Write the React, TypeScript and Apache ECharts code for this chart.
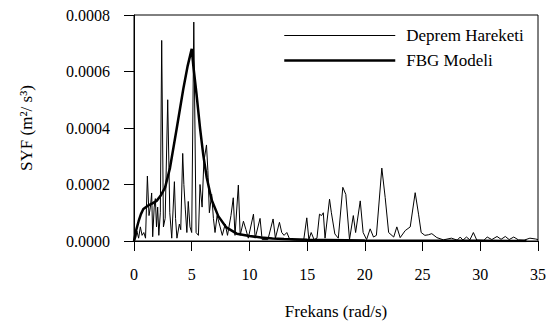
import React, { useEffect, useRef } from "react";
import * as echarts from "echarts";

const seriesNames = ["Deprem Hareketi", "FBG Modeli"];
const xTicks = [0, 5, 10, 15, 20, 25, 30, 35];
const yTicks = [0, 0.0002, 0.0004, 0.0006, 0.0008];

// Deprem Hareketi (earthquake motion spectrum): [frequency rad/s, SYF]
const quakeData: [number, number][] = [
  [0, 0], [0.15, 0.00001], [0.25, 0.000035], [0.4, 0.00001], [0.55, 0.00005],
  [0.7, 0.00002], [0.85, 0.00003], [1.0, 0.00001], [1.16, 0.00023], [1.3, 0.00009],
  [1.42, 0.00012], [1.53, 0.00017], [1.62, 0.000015], [1.75, 0.00012], [1.85, 0.00015],
  [1.95, 0.00005], [2.05, 0.00012], [2.15, 0.00002], [2.28, 0.0001], [2.4, 0.00071],
  [2.55, 0.00005], [2.7, 0.00008], [2.92, 0.0005], [3.1, 0.0001], [3.27, 0.00001],
  [3.5, 0.00021], [3.6, 0.00008], [3.72, 0.00001], [3.93, 0.00006], [4.05, 0.00004],
  [4.22, 0.00031], [4.32, 0.0002], [4.45, 0.00011], [4.58, 0.00003], [4.7, 0.00014],
  [4.85, 0.00005], [5.0, 0.00003], [5.18, 0.000775], [5.38, 0.00003], [5.58, 0.00002],
  [5.72, 0.0002], [5.9, 0.00012], [6.05, 0.00028], [6.28, 0.00034], [6.4, 0.00025],
  [6.53, 0.0001], [6.73, 0.000165], [6.88, 0.00008], [7.02, 0.00003], [7.2, 0.00009],
  [7.46, 0.00005], [7.65, 0.00002], [7.9, 0.00006], [8.1, 0.00002], [8.4, 0.00009],
  [8.6, 0.000153], [8.75, 0.00002], [9.04, 0.000198], [9.2, 0.00002], [9.48, 0.00007],
  [9.7, 0.00004], [9.9, 0.00001], [10.35, 0.000095], [10.5, 0.00001], [10.92, 0.00008],
  [11.1, 0.000005], [11.6, 0.000005], [12.05, 0.000078], [12.25, 0.00001], [12.6, 0.000066],
  [12.8, 0.00003], [13.0, 0.00002], [13.24, 0.00003], [13.5, 0.000005], [14.0, 0.000003],
  [14.7, 0.000003], [14.97, 0.000082], [15.15, 0.000005], [15.35, 0.00003], [15.6, 0.000005],
  [15.85, 0.00001], [16.07, 0.000095], [16.25, 0.00009], [16.4, 0.0001], [16.55, 0.00001],
  [16.94, 0.000148], [17.1, 0.0001], [17.4, 0.000025], [17.7, 0.00001], [18.09, 0.00019],
  [18.35, 0.000165], [18.67, 0.000005], [19.0, 0.00009], [19.2, 0.00003], [19.6, 0.000142],
  [19.85, 0.00003], [20.15, 0.000005], [20.46, 0.000043], [20.75, 0.000014], [21.0, 0.00002],
  [21.47, 0.000258], [21.76, 0.000154], [22.06, 0.00003], [22.5, 0.000014], [22.77, 0.00005],
  [23.06, 0.000012], [23.5, 0.000037], [23.93, 0.00005], [24.36, 0.000171], [24.65, 0.000095],
  [24.88, 0.00003], [25.2, 0.00002], [25.5, 0.000022], [25.8, 0.000026], [26.24, 0.000012],
  [26.8, 0.000004], [27.5, 0.00001], [28.0, 0.000003], [28.26, 0.000014], [28.5, 0.000003],
  [28.8, 0.000014], [29.1, 0.000004], [29.4, 0.00003], [29.7, 0.000003], [30.3, 0.000002],
  [30.6, 0.000014], [31.0, 0.000005], [31.45, 0.000016], [31.8, 0.000006], [32.17, 0.000016],
  [32.5, 0.000005], [32.9, 0.000014], [33.3, 0.000004], [33.8, 0.000003], [34.3, 0.00001],
  [34.8, 0.000007], [35, 0.000005],
];

// FBG Modeli (model spectrum): [frequency rad/s, SYF]
const modelData: [number, number][] = [
  [0, 0], [0.2, 0.00004], [0.4, 0.00007], [0.6, 0.000095], [0.81, 0.000113],
  [1.2, 0.000125], [1.6, 0.000133], [1.96, 0.000142], [2.3, 0.00016], [2.69, 0.000189],
  [3.12, 0.000259], [3.7, 0.000398], [4.27, 0.000538], [4.65, 0.00062], [5.0, 0.00068],
  [5.14, 0.00062], [5.43, 0.000515], [5.72, 0.0004], [6.0, 0.000305], [6.3, 0.000225],
  [6.73, 0.000145], [7.3, 0.000088], [8.0, 0.000048], [8.9, 0.000026], [10.0, 0.000018],
  [11.0, 0.000012], [12.0, 0.000009], [13.0, 0.000007], [15.0, 0.000004], [20.0, 0.0000015],
  [25.0, 0.000001], [30.0, 0.0000005], [34.0, 0.0000003],
];

const FONT = "Liberation Serif";

export default function App() {
  const ref = useRef<HTMLDivElement>(null);
  useEffect(() => {
    if (!ref.current) return;
    const chart = echarts.init(ref.current, undefined, { renderer: "svg" });
    chart.setOption({
      animation: false,
      textStyle: { fontFamily: FONT, color: "#000" },
      grid: {
        left: 134,
        right: 12,
        top: 15,
        bottom: 81,
        show: true,
        borderColor: "#000",
        borderWidth: 1,
      },
      legend: {
        orient: "vertical",
        left: 278,
        top: 22,
        itemWidth: 111,
        itemHeight: 14,
        itemGap: 8,
        data: [
          { name: seriesNames[0], lineStyle: { width: 1, color: "#000" } },
          { name: seriesNames[1], lineStyle: { width: 2.5, color: "#000" } },
        ],
        itemStyle: { opacity: 0 },
        textStyle: { fontFamily: FONT, fontSize: 17, color: "#000", padding: [0, 0, 0, 6] },
      },
      xAxis: {
        type: "value",
        min: xTicks[0],
        max: xTicks[xTicks.length - 1],
        interval: 5,
        name: "Frekans (rad/s)",
        nameLocation: "middle",
        nameGap: 62,
        nameTextStyle: { fontFamily: FONT, fontSize: 17, color: "#000" },
        axisLine: { show: true, lineStyle: { color: "#000", width: 1 } },
        axisTick: { show: true, inside: false, length: 10, lineStyle: { color: "#000" } },
        axisLabel: { fontFamily: FONT, fontSize: 16, color: "#000", margin: 25 },
        splitLine: { show: false },
      },
      yAxis: {
        type: "value",
        min: yTicks[0],
        max: yTicks[yTicks.length - 1],
        interval: 0.0002,
        name: "SYF (m²/ s³)",
        nameLocation: "middle",
        nameRotate: 90,
        nameGap: 99,
        nameTextStyle: { fontFamily: FONT, fontSize: 17, color: "#000" },
        axisLine: { show: true, lineStyle: { color: "#000", width: 1 } },
        axisTick: { show: true, inside: false, length: 10, lineStyle: { color: "#000" } },
        axisLabel: {
          fontFamily: FONT,
          fontSize: 16,
          color: "#000",
          margin: 24,
          formatter: (v: number) => v.toFixed(4),
        },
        splitLine: { show: false },
      },
      series: [
        {
          name: seriesNames[0],
          type: "line",
          data: quakeData,
          symbol: "none",
          lineStyle: { color: "#000", width: 1 },
          itemStyle: { color: "#000" },
          z: 2,
        },
        {
          name: seriesNames[1],
          type: "line",
          data: modelData,
          symbol: "none",
          lineStyle: { color: "#000", width: 2.5 },
          itemStyle: { color: "#000" },
          z: 3,
        },
      ],
    });
    return () => chart.dispose();
  }, []);
  return (
    <div
      ref={ref}
      style={{ position: "absolute", left: 0, top: 0, width: 550, height: 325 }}
    />
  );
}
